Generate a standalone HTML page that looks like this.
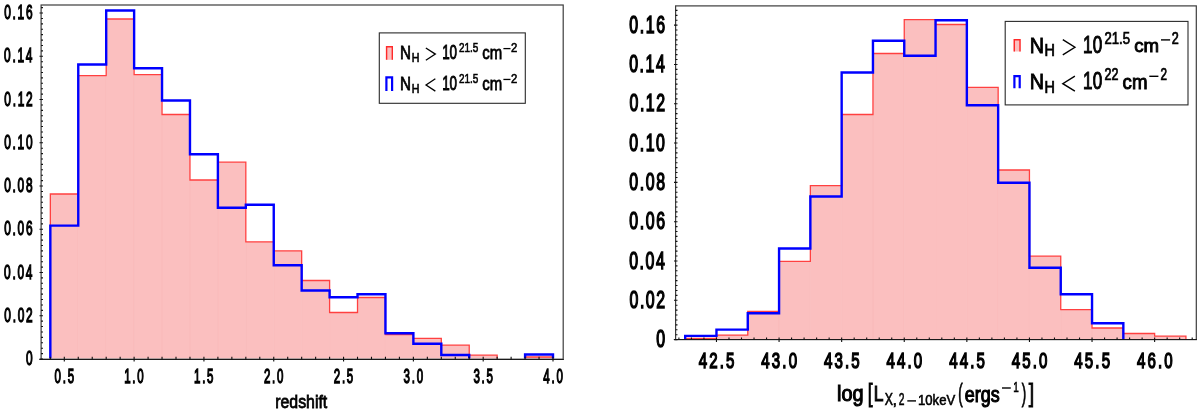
<!DOCTYPE html><html><head><meta charset="utf-8"><style>html,body{margin:0;padding:0;background:#fff;overflow:hidden;}svg{display:block;filter:blur(0.3px);}text{font-family:"Liberation Sans",sans-serif;fill:#000;}</style></head><body>
<svg width="1200" height="411" viewBox="0 0 1200 411">
<rect width="1200" height="411" fill="#fff"/>
<clipPath id="cL"><rect x="41.1" y="5" width="522.1" height="353.6"/></clipPath>
<g clip-path="url(#cL)">
<g fill="#fbbfbf"><rect x="50.34" y="194" width="27.93" height="165.2"/><rect x="78.26" y="75.7" width="27.93" height="283.5"/><rect x="106.19" y="19" width="27.93" height="340.2"/><rect x="134.12" y="74.7" width="27.93" height="284.5"/><rect x="162.04" y="114.5" width="27.93" height="244.7"/><rect x="189.97" y="180" width="27.93" height="179.2"/><rect x="217.89" y="162.2" width="27.93" height="197"/><rect x="245.82" y="241.8" width="27.93" height="117.4"/><rect x="273.75" y="250.8" width="27.93" height="108.4"/><rect x="301.67" y="280.5" width="27.93" height="78.7"/><rect x="329.6" y="312.5" width="27.93" height="46.7"/><rect x="357.52" y="297.5" width="27.93" height="61.7"/><rect x="385.45" y="334.6" width="27.93" height="24.6"/><rect x="413.38" y="338.4" width="27.93" height="20.8"/><rect x="441.3" y="345.2" width="27.93" height="14"/><rect x="469.23" y="355.2" width="27.93" height="4"/><rect x="525.08" y="357" width="27.93" height="2.2"/></g>
<path d="M78.26,195 V359.2 M106.19,76.7 V359.2 M134.12,75.7 V359.2 M162.04,115.5 V359.2 M189.97,181 V359.2 M217.89,181 V359.2 M245.82,242.8 V359.2 M273.75,251.8 V359.2 M301.67,281.5 V359.2 M329.6,313.5 V359.2 M357.52,313.5 V359.2 M385.45,335.6 V359.2 M413.38,339.4 V359.2 M441.3,346.2 V359.2 M469.23,356.2 V359.2" stroke="#f9b4b4" stroke-width="0.6" fill="none"/>
<path d="M50.34,359.2 L50.34,194 L78.26,194 L78.26,75.7 L106.19,75.7 L106.19,19 L134.12,19 L134.12,74.7 L162.04,74.7 L162.04,114.5 L189.97,114.5 L189.97,180 L217.89,180 L217.89,162.2 L245.82,162.2 L245.82,241.8 L273.75,241.8 L273.75,250.8 L301.67,250.8 L301.67,280.5 L329.6,280.5 L329.6,312.5 L357.52,312.5 L357.52,297.5 L385.45,297.5 L385.45,334.6 L413.38,334.6 L413.38,338.4 L441.3,338.4 L441.3,345.2 L469.23,345.2 L469.23,355.2 L497.15,355.2 L497.15,359.2 M525.08,359.2 L525.08,357 L553,357 L553,359.2" stroke="#ff4040" stroke-width="1.3" fill="none" stroke-linejoin="miter"/>
<path d="M50.34,359.2 L50.34,225.6 L78.26,225.6 L78.26,64.5 L106.19,64.5 L106.19,10.5 L134.12,10.5 L134.12,68.3 L162.04,68.3 L162.04,100.5 L189.97,100.5 L189.97,154.2 L217.89,154.2 L217.89,207.7 L245.82,207.7 L245.82,204.8 L273.75,204.8 L273.75,265.3 L301.67,265.3 L301.67,290.5 L329.6,290.5 L329.6,297.2 L357.52,297.2 L357.52,294.2 L385.45,294.2 L385.45,333.3 L413.38,333.3 L413.38,343.8 L441.3,343.8 L441.3,355 L469.23,355 L469.23,359.2 M525.08,359.2 L525.08,354.5 L553,354.5 L553,359.2" stroke="#0000ff" stroke-width="2.4" fill="none" stroke-linejoin="miter"/>
</g>
<rect x="41.1" y="5" width="522.1" height="354.2" fill="none" stroke="#3c3c3c" stroke-width="1.2"/>
<path d="M39.3,359.5 H563.8" stroke="#1a1a1a" stroke-width="1.1"/>
<path d="M50.34,359.2 V356.8 M64.3,359.2 V356.8 M78.26,359.2 V356.8 M92.23,359.2 V356.8 M106.19,359.2 V356.8 M120.15,359.2 V356.8 M134.11,359.2 V356.8 M148.08,359.2 V356.8 M162.04,359.2 V356.8 M176,359.2 V356.8 M189.97,359.2 V356.8 M203.93,359.2 V356.8 M217.89,359.2 V356.8 M231.86,359.2 V356.8 M245.82,359.2 V356.8 M259.78,359.2 V356.8 M273.75,359.2 V356.8 M287.71,359.2 V356.8 M301.67,359.2 V356.8 M315.63,359.2 V356.8 M329.6,359.2 V356.8 M343.56,359.2 V356.8 M357.52,359.2 V356.8 M371.49,359.2 V356.8 M385.45,359.2 V356.8 M399.41,359.2 V356.8 M413.38,359.2 V356.8 M427.34,359.2 V356.8 M441.3,359.2 V356.8 M455.26,359.2 V356.8 M469.23,359.2 V356.8 M483.19,359.2 V356.8 M497.15,359.2 V356.8 M511.12,359.2 V356.8 M525.08,359.2 V356.8 M539.04,359.2 V356.8 M553.01,359.2 V356.8 M64.3,361.6 V356.8 M134.12,361.6 V356.8 M203.93,361.6 V356.8 M273.75,361.6 V356.8 M343.56,361.6 V356.8 M413.38,361.6 V356.8 M483.19,361.6 V356.8 M553,361.6 V356.8 M39.5,359 H43 M41.1,353.59 H43 M41.1,348.19 H43 M41.1,342.78 H43 M41.1,337.38 H43 M41.1,331.97 H43 M41.1,326.57 H43 M41.1,321.16 H43 M39.5,315.76 H43 M41.1,310.35 H43 M41.1,304.94 H43 M41.1,299.54 H43 M41.1,294.13 H43 M41.1,288.73 H43 M41.1,283.32 H43 M41.1,277.92 H43 M39.5,272.51 H43 M41.1,267.11 H43 M41.1,261.7 H43 M41.1,256.3 H43 M41.1,250.89 H43 M41.1,245.48 H43 M41.1,240.08 H43 M41.1,234.67 H43 M39.5,229.27 H43 M41.1,223.86 H43 M41.1,218.46 H43 M41.1,213.05 H43 M41.1,207.65 H43 M41.1,202.24 H43 M41.1,196.84 H43 M41.1,191.43 H43 M39.5,186.02 H43 M41.1,180.62 H43 M41.1,175.21 H43 M41.1,169.81 H43 M41.1,164.4 H43 M41.1,159 H43 M41.1,153.59 H43 M41.1,148.19 H43 M39.5,142.78 H43 M41.1,137.37 H43 M41.1,131.97 H43 M41.1,126.56 H43 M41.1,121.16 H43 M41.1,115.75 H43 M41.1,110.35 H43 M41.1,104.94 H43 M39.5,99.54 H43 M41.1,94.13 H43 M41.1,88.73 H43 M41.1,83.32 H43 M41.1,77.91 H43 M41.1,72.51 H43 M41.1,67.1 H43 M41.1,61.7 H43 M39.5,56.29 H43 M41.1,50.89 H43 M41.1,45.48 H43 M41.1,40.08 H43 M41.1,34.67 H43 M41.1,29.26 H43 M41.1,23.86 H43 M41.1,18.45 H43 M39.5,13.05 H43 M41.1,7.64 H43" stroke="#111" stroke-width="1.1"/>
<text transform="translate(54.55,382.95) scale(0.5907,1)" font-size="19.477" text-anchor="start" font-weight="normal" letter-spacing="2.989" stroke="#000" stroke-width="1.300">0.5</text>
<text transform="translate(124.14,382.95) scale(0.5907,1)" font-size="19.477" text-anchor="start" font-weight="normal" letter-spacing="2.989" stroke="#000" stroke-width="1.300">1.0</text>
<text transform="translate(193.97,382.95) scale(0.5907,1)" font-size="19.477" text-anchor="start" font-weight="normal" letter-spacing="2.989" stroke="#000" stroke-width="1.300">1.5</text>
<text transform="translate(263.92,382.95) scale(0.5907,1)" font-size="19.477" text-anchor="start" font-weight="normal" letter-spacing="2.989" stroke="#000" stroke-width="1.300">2.0</text>
<text transform="translate(333.75,382.95) scale(0.5907,1)" font-size="19.477" text-anchor="start" font-weight="normal" letter-spacing="2.989" stroke="#000" stroke-width="1.300">2.5</text>
<text transform="translate(403.62,382.95) scale(0.5907,1)" font-size="19.477" text-anchor="start" font-weight="normal" letter-spacing="2.989" stroke="#000" stroke-width="1.300">3.0</text>
<text transform="translate(473.45,382.95) scale(0.5907,1)" font-size="19.477" text-anchor="start" font-weight="normal" letter-spacing="2.989" stroke="#000" stroke-width="1.300">3.5</text>
<text transform="translate(543.33,382.95) scale(0.5907,1)" font-size="19.477" text-anchor="start" font-weight="normal" letter-spacing="2.989" stroke="#000" stroke-width="1.300">4.0</text>
<text transform="translate(25.88,365) scale(0.6033,1)" font-size="19.764" text-anchor="start" font-weight="normal" letter-spacing="2.808" stroke="#000" stroke-width="1.300">0</text>
<text transform="translate(4.36,321.76) scale(0.6033,1)" font-size="19.764" text-anchor="start" font-weight="normal" letter-spacing="2.808" stroke="#000" stroke-width="1.300">0.02</text>
<text transform="translate(4.11,278.51) scale(0.6033,1)" font-size="19.764" text-anchor="start" font-weight="normal" letter-spacing="2.808" stroke="#000" stroke-width="1.300">0.04</text>
<text transform="translate(4.28,235.27) scale(0.6033,1)" font-size="19.764" text-anchor="start" font-weight="normal" letter-spacing="2.808" stroke="#000" stroke-width="1.300">0.06</text>
<text transform="translate(4.28,192.02) scale(0.6033,1)" font-size="19.764" text-anchor="start" font-weight="normal" letter-spacing="2.808" stroke="#000" stroke-width="1.300">0.08</text>
<text transform="translate(4.23,148.78) scale(0.6033,1)" font-size="19.764" text-anchor="start" font-weight="normal" letter-spacing="2.808" stroke="#000" stroke-width="1.300">0.10</text>
<text transform="translate(4.36,105.54) scale(0.6033,1)" font-size="19.764" text-anchor="start" font-weight="normal" letter-spacing="2.808" stroke="#000" stroke-width="1.300">0.12</text>
<text transform="translate(4.11,62.29) scale(0.6033,1)" font-size="19.764" text-anchor="start" font-weight="normal" letter-spacing="2.808" stroke="#000" stroke-width="1.300">0.14</text>
<text transform="translate(4.28,19.05) scale(0.6033,1)" font-size="19.764" text-anchor="start" font-weight="normal" letter-spacing="2.808" stroke="#000" stroke-width="1.300">0.16</text>
<clipPath id="cR"><rect x="675.6" y="5.9" width="520.7" height="333.1"/></clipPath>
<g clip-path="url(#cR)">
<g fill="#fbbfbf"><rect x="685.17" y="338.3" width="31.3" height="1.3"/><rect x="716.47" y="335.2" width="31.3" height="4.4"/><rect x="747.77" y="311.3" width="31.3" height="28.3"/><rect x="779.07" y="261.3" width="31.3" height="78.3"/><rect x="810.36" y="185.7" width="31.3" height="153.9"/><rect x="841.66" y="114.5" width="31.3" height="225.1"/><rect x="872.96" y="53.5" width="31.3" height="286.1"/><rect x="904.25" y="19.7" width="31.3" height="319.9"/><rect x="935.55" y="24.5" width="31.3" height="315.1"/><rect x="966.85" y="87.3" width="31.3" height="252.3"/><rect x="998.15" y="170" width="31.3" height="169.6"/><rect x="1029.45" y="256.2" width="31.3" height="83.4"/><rect x="1060.74" y="309.7" width="31.3" height="29.9"/><rect x="1092.04" y="328" width="31.3" height="11.6"/><rect x="1123.34" y="333.5" width="31.3" height="6.1"/><rect x="1154.63" y="336.2" width="31.3" height="3.4"/></g>
<path d="M716.47,339.3 V339.6 M747.77,336.2 V339.6 M779.07,312.3 V339.6 M810.36,262.3 V339.6 M841.66,186.7 V339.6 M872.96,115.5 V339.6 M904.25,54.5 V339.6 M935.55,25.5 V339.6 M966.85,88.3 V339.6 M998.15,171 V339.6 M1029.45,257.2 V339.6 M1060.74,310.7 V339.6 M1092.04,329 V339.6 M1123.34,334.5 V339.6 M1154.63,337.2 V339.6" stroke="#f9b4b4" stroke-width="0.6" fill="none"/>
<path d="M685.17,339.6 L685.17,338.3 L716.47,338.3 L716.47,335.2 L747.77,335.2 L747.77,311.3 L779.07,311.3 L779.07,261.3 L810.36,261.3 L810.36,185.7 L841.66,185.7 L841.66,114.5 L872.96,114.5 L872.96,53.5 L904.25,53.5 L904.25,19.7 L935.55,19.7 L935.55,24.5 L966.85,24.5 L966.85,87.3 L998.15,87.3 L998.15,170 L1029.45,170 L1029.45,256.2 L1060.74,256.2 L1060.74,309.7 L1092.04,309.7 L1092.04,328 L1123.34,328 L1123.34,333.5 L1154.63,333.5 L1154.63,336.2 L1185.93,336.2 L1185.93,339.6" stroke="#ff4040" stroke-width="1.3" fill="none" stroke-linejoin="miter"/>
<path d="M685.17,339.6 L685.17,335.9 L716.47,335.9 L716.47,329.6 L747.77,329.6 L747.77,313.2 L779.07,313.2 L779.07,248.5 L810.36,248.5 L810.36,196.5 L841.66,196.5 L841.66,72.5 L872.96,72.5 L872.96,40.7 L904.25,40.7 L904.25,55.8 L935.55,55.8 L935.55,20.3 L966.85,20.3 L966.85,105.2 L998.15,105.2 L998.15,182.7 L1029.45,182.7 L1029.45,267.7 L1060.74,267.7 L1060.74,294.3 L1092.04,294.3 L1092.04,323.2 L1123.34,323.2 L1123.34,339.6" stroke="#0000ff" stroke-width="2.4" fill="none" stroke-linejoin="miter"/>
</g>
<rect x="675.6" y="5.9" width="520.7" height="333.7" fill="none" stroke="#3c3c3c" stroke-width="1.2"/>
<path d="M673.8,339.5 H1196.9" stroke="#1a1a1a" stroke-width="1.1"/>
<path d="M678.91,339.6 V337.4 M691.43,339.6 V337.4 M703.95,339.6 V337.4 M716.47,339.6 V337.4 M728.99,339.6 V337.4 M741.51,339.6 V337.4 M754.03,339.6 V337.4 M766.55,339.6 V337.4 M779.07,339.6 V337.4 M791.58,339.6 V337.4 M804.1,339.6 V337.4 M816.62,339.6 V337.4 M829.14,339.6 V337.4 M841.66,339.6 V337.4 M854.18,339.6 V337.4 M866.7,339.6 V337.4 M879.22,339.6 V337.4 M891.74,339.6 V337.4 M904.26,339.6 V337.4 M916.77,339.6 V337.4 M929.29,339.6 V337.4 M941.81,339.6 V337.4 M954.33,339.6 V337.4 M966.85,339.6 V337.4 M979.37,339.6 V337.4 M991.89,339.6 V337.4 M1004.41,339.6 V337.4 M1016.93,339.6 V337.4 M1029.45,339.6 V337.4 M1041.96,339.6 V337.4 M1054.48,339.6 V337.4 M1067,339.6 V337.4 M1079.52,339.6 V337.4 M1092.04,339.6 V337.4 M1104.56,339.6 V337.4 M1117.08,339.6 V337.4 M1129.6,339.6 V337.4 M1142.12,339.6 V337.4 M1154.64,339.6 V337.4 M1167.15,339.6 V337.4 M1179.67,339.6 V337.4 M1192.19,339.6 V337.4 M716.47,342 V337.4 M779.07,342 V337.4 M841.66,342 V337.4 M904.25,342 V337.4 M966.85,342 V337.4 M1029.45,342 V337.4 M1092.04,342 V337.4 M1154.63,342 V337.4 M674,339.6 H677.5 M675.6,334.69 H677.5 M675.6,329.77 H677.5 M675.6,324.86 H677.5 M675.6,319.95 H677.5 M675.6,315.03 H677.5 M675.6,310.12 H677.5 M675.6,305.21 H677.5 M674,300.29 H677.5 M675.6,295.38 H677.5 M675.6,290.47 H677.5 M675.6,285.55 H677.5 M675.6,280.64 H677.5 M675.6,275.73 H677.5 M675.6,270.81 H677.5 M675.6,265.9 H677.5 M674,260.99 H677.5 M675.6,256.07 H677.5 M675.6,251.16 H677.5 M675.6,246.25 H677.5 M675.6,241.34 H677.5 M675.6,236.42 H677.5 M675.6,231.51 H677.5 M675.6,226.6 H677.5 M674,221.68 H677.5 M675.6,216.77 H677.5 M675.6,211.86 H677.5 M675.6,206.94 H677.5 M675.6,202.03 H677.5 M675.6,197.12 H677.5 M675.6,192.2 H677.5 M675.6,187.29 H677.5 M674,182.38 H677.5 M675.6,177.46 H677.5 M675.6,172.55 H677.5 M675.6,167.64 H677.5 M675.6,162.72 H677.5 M675.6,157.81 H677.5 M675.6,152.9 H677.5 M675.6,147.98 H677.5 M674,143.07 H677.5 M675.6,138.16 H677.5 M675.6,133.24 H677.5 M675.6,128.33 H677.5 M675.6,123.42 H677.5 M675.6,118.5 H677.5 M675.6,113.59 H677.5 M675.6,108.68 H677.5 M674,103.76 H677.5 M675.6,98.85 H677.5 M675.6,93.94 H677.5 M675.6,89.02 H677.5 M675.6,84.11 H677.5 M675.6,79.2 H677.5 M675.6,74.28 H677.5 M675.6,69.37 H677.5 M674,64.46 H677.5 M675.6,59.54 H677.5 M675.6,54.63 H677.5 M675.6,49.72 H677.5 M675.6,44.81 H677.5 M675.6,39.89 H677.5 M675.6,34.98 H677.5 M675.6,30.07 H677.5 M674,25.15 H677.5 M675.6,20.24 H677.5 M675.6,15.33 H677.5 M675.6,10.41 H677.5" stroke="#111" stroke-width="1.1"/>
<text transform="translate(698.77,367.55) scale(0.6699,1)" font-size="22.485" text-anchor="start" font-weight="normal" letter-spacing="3.166" stroke="#000" stroke-width="1.500">42.5</text>
<text transform="translate(761.35,367.55) scale(0.6699,1)" font-size="22.485" text-anchor="start" font-weight="normal" letter-spacing="3.166" stroke="#000" stroke-width="1.500">43.0</text>
<text transform="translate(823.96,367.55) scale(0.6699,1)" font-size="22.485" text-anchor="start" font-weight="normal" letter-spacing="3.166" stroke="#000" stroke-width="1.500">43.5</text>
<text transform="translate(886.54,367.55) scale(0.6699,1)" font-size="22.485" text-anchor="start" font-weight="normal" letter-spacing="3.166" stroke="#000" stroke-width="1.500">44.0</text>
<text transform="translate(949.15,367.55) scale(0.6699,1)" font-size="22.485" text-anchor="start" font-weight="normal" letter-spacing="3.166" stroke="#000" stroke-width="1.500">44.5</text>
<text transform="translate(1011.73,367.55) scale(0.6699,1)" font-size="22.485" text-anchor="start" font-weight="normal" letter-spacing="3.166" stroke="#000" stroke-width="1.500">45.0</text>
<text transform="translate(1074.34,367.55) scale(0.6699,1)" font-size="22.485" text-anchor="start" font-weight="normal" letter-spacing="3.166" stroke="#000" stroke-width="1.500">45.5</text>
<text transform="translate(1136.92,367.55) scale(0.6699,1)" font-size="22.485" text-anchor="start" font-weight="normal" letter-spacing="3.166" stroke="#000" stroke-width="1.500">46.0</text>
<text transform="translate(656.13,347.15) scale(0.6728,1)" font-size="23.631" text-anchor="start" font-weight="normal" letter-spacing="2.350" stroke="#000" stroke-width="1.500">0</text>
<text transform="translate(629.46,307.84) scale(0.6728,1)" font-size="23.631" text-anchor="start" font-weight="normal" letter-spacing="2.350" stroke="#000" stroke-width="1.500">0.02</text>
<text transform="translate(629.13,268.54) scale(0.6728,1)" font-size="23.631" text-anchor="start" font-weight="normal" letter-spacing="2.350" stroke="#000" stroke-width="1.500">0.04</text>
<text transform="translate(629.36,229.23) scale(0.6728,1)" font-size="23.631" text-anchor="start" font-weight="normal" letter-spacing="2.350" stroke="#000" stroke-width="1.500">0.06</text>
<text transform="translate(629.35,189.93) scale(0.6728,1)" font-size="23.631" text-anchor="start" font-weight="normal" letter-spacing="2.350" stroke="#000" stroke-width="1.500">0.08</text>
<text transform="translate(629.28,150.62) scale(0.6728,1)" font-size="23.631" text-anchor="start" font-weight="normal" letter-spacing="2.350" stroke="#000" stroke-width="1.500">0.10</text>
<text transform="translate(629.46,111.31) scale(0.6728,1)" font-size="23.631" text-anchor="start" font-weight="normal" letter-spacing="2.350" stroke="#000" stroke-width="1.500">0.12</text>
<text transform="translate(629.13,72.01) scale(0.6728,1)" font-size="23.631" text-anchor="start" font-weight="normal" letter-spacing="2.350" stroke="#000" stroke-width="1.500">0.14</text>
<text transform="translate(629.36,32.7) scale(0.6728,1)" font-size="23.631" text-anchor="start" font-weight="normal" letter-spacing="2.350" stroke="#000" stroke-width="1.500">0.16</text>
<text transform="translate(275.25,408) scale(0.8586,1)" font-size="18.493" text-anchor="start" font-weight="normal" stroke="#000" stroke-width="0.800">redshift</text>
<text transform="translate(837.11,400.75) scale(0.9231,1)" font-size="21.529" text-anchor="start" font-weight="normal" stroke="#000" stroke-width="1.100">log</text>
<text transform="translate(867.79,402.17) scale(0.6927,1)" font-size="25.426" text-anchor="start" font-weight="normal" stroke="#000" stroke-width="0.900">[</text>
<text transform="translate(873.82,400.75) scale(0.7957,1)" font-size="21.948" text-anchor="start" font-weight="normal" stroke="#000" stroke-width="1.100">L</text>
<text transform="translate(884.82,404.9) scale(0.7586,1)" font-size="16.279" text-anchor="start" font-weight="normal" stroke="#000" stroke-width="0.600">X</text>
<text transform="translate(892.44,405.12) scale(0.9572,1)" font-size="17.031" text-anchor="start" font-weight="normal" stroke="#000" stroke-width="0.600">,</text>
<text transform="translate(898.68,404.9) scale(0.6432,1)" font-size="16.040" text-anchor="start" font-weight="normal" stroke="#000" stroke-width="0.600">2</text>
<path d="M907.3,400.9 H916" stroke="#000" stroke-width="1.4"/>
<text transform="translate(918,404.9) scale(0.8656,1)" font-size="15.181" text-anchor="start" font-weight="normal" stroke="#000" stroke-width="0.600">10keV</text>
<text transform="translate(958.23,402.01) scale(0.5211,1)" font-size="25.332" text-anchor="start" font-weight="normal" stroke="#000" stroke-width="0.900">(</text>
<text transform="translate(964.79,401.55) scale(0.8469,1)" font-size="21.191" text-anchor="start" font-weight="normal" stroke="#000" stroke-width="1.100">ergs</text>
<path d="M1002,388 H1010.8" stroke="#000" stroke-width="1.4"/>
<text transform="translate(1013.14,392.2) scale(0.6413,1)" font-size="15.553" text-anchor="start" font-weight="normal" stroke="#000" stroke-width="0.600">1</text>
<text transform="translate(1021.67,402.01) scale(0.5211,1)" font-size="25.332" text-anchor="start" font-weight="normal" stroke="#000" stroke-width="0.900">)</text>
<text transform="translate(1028.8,401.76) scale(0.7851,1)" font-size="24.997" text-anchor="start" font-weight="normal" stroke="#000" stroke-width="0.900">]</text>
<rect x="379.3" y="32.9" width="146" height="70.4" fill="#fff" stroke="#2a2a2a" stroke-width="1.1"/>
<rect x="385.9" y="46.1" width="7.1" height="13.7" fill="#fbbfbf"/>
<path d="M386.6,59.8 V46.8 H392.3 V59.8" stroke="#ff2a2a" stroke-width="1.4" fill="none"/>
<text transform="translate(399.95,58.9) scale(0.7992,1)" font-size="19.041" text-anchor="start" font-weight="normal" stroke="#000" stroke-width="0.800">N</text>
<text transform="translate(411.75,62.07) scale(0.8281,1)" font-size="12.864" text-anchor="start" font-weight="normal" stroke="#000" stroke-width="0.650">H</text>
<path d="M425.85,47.95 L435.35,54.1 L425.85,60.25" stroke="#000" stroke-width="1.3" fill="none" stroke-linejoin="miter"/>
<text transform="translate(442.13,59.15) scale(0.6608,1)" font-size="20.337" text-anchor="start" font-weight="normal" stroke="#000" stroke-width="0.900">10</text>
<text transform="translate(458.92,51.67) scale(0.7276,1)" font-size="13.677" text-anchor="start" font-weight="normal" stroke="#000" stroke-width="0.650">21.5</text>
<text transform="translate(482.37,59.3) scale(0.7807,1)" font-size="19.142" text-anchor="start" font-weight="normal" stroke="#000" stroke-width="0.800">cm</text>
<path d="M503.4,48.6 H510.5" stroke="#000" stroke-width="1.3"/>
<text transform="translate(510.96,51.67) scale(0.8265,1)" font-size="13.677" text-anchor="start" font-weight="normal" stroke="#000" stroke-width="0.650">2</text>
<path d="M386.4,91.1 V77.4 H392.1 V91.1" stroke="#0000ff" stroke-width="2.2" fill="none"/>
<text transform="translate(399.95,89.75) scale(0.7992,1)" font-size="19.041" text-anchor="start" font-weight="normal" stroke="#000" stroke-width="0.800">N</text>
<text transform="translate(411.75,92.92) scale(0.8281,1)" font-size="12.864" text-anchor="start" font-weight="normal" stroke="#000" stroke-width="0.650">H</text>
<path d="M435.35,78.8 L426.05,84.95 L435.35,91.1" stroke="#000" stroke-width="1.3" fill="none" stroke-linejoin="miter"/>
<text transform="translate(442.13,90) scale(0.6608,1)" font-size="20.337" text-anchor="start" font-weight="normal" stroke="#000" stroke-width="0.900">10</text>
<text transform="translate(458.92,82.52) scale(0.7276,1)" font-size="13.677" text-anchor="start" font-weight="normal" stroke="#000" stroke-width="0.650">21.5</text>
<text transform="translate(482.37,90.15) scale(0.7807,1)" font-size="19.142" text-anchor="start" font-weight="normal" stroke="#000" stroke-width="0.800">cm</text>
<path d="M503.4,79.45 H510.5" stroke="#000" stroke-width="1.3"/>
<text transform="translate(510.96,82.52) scale(0.8265,1)" font-size="13.677" text-anchor="start" font-weight="normal" stroke="#000" stroke-width="0.650">2</text>
<rect x="1005.2" y="21.4" width="182.8" height="83.5" fill="#fff" stroke="#2a2a2a" stroke-width="1.1"/>
<rect x="1013.6" y="39.1" width="7.1" height="12.4" fill="#fbbfbf"/>
<path d="M1014.3,51.5 V39.8 H1020 V51.5" stroke="#ff2a2a" stroke-width="1.4" fill="none"/>
<path d="M1014.4,88.3 V76.1 H1019.7 V88.3" stroke="#0000ff" stroke-width="2.2" fill="none"/>
<text transform="translate(1029.65,52.52) scale(0.8696,1)" font-size="22.747" text-anchor="start" font-weight="normal" stroke="#000" stroke-width="0.950">N</text>
<text transform="translate(1044.49,56.42) scale(0.9055,1)" font-size="15.916" text-anchor="start" font-weight="normal" stroke="#000" stroke-width="0.750">H</text>
<path d="M1062.8,39.7 L1074.9,47.25 L1062.8,54.8" stroke="#000" stroke-width="1.4" fill="none" stroke-linejoin="miter"/>
<text transform="translate(1083.12,53.08) scale(0.7215,1)" font-size="23.702" text-anchor="start" font-weight="normal" stroke="#000" stroke-width="1.050">10</text>
<text transform="translate(1029.65,88.93) scale(0.8696,1)" font-size="22.747" text-anchor="start" font-weight="normal" stroke="#000" stroke-width="0.950">N</text>
<text transform="translate(1044.49,92.82) scale(0.9055,1)" font-size="15.916" text-anchor="start" font-weight="normal" stroke="#000" stroke-width="0.750">H</text>
<path d="M1074.9,76.1 L1062.8,83.65 L1074.9,91.2" stroke="#000" stroke-width="1.4" fill="none" stroke-linejoin="miter"/>
<text transform="translate(1083.12,89.47) scale(0.7215,1)" font-size="23.702" text-anchor="start" font-weight="normal" stroke="#000" stroke-width="1.050">10</text>
<text transform="translate(1104.41,44.02) scale(0.8225,1)" font-size="15.969" text-anchor="start" font-weight="normal" stroke="#000" stroke-width="0.750">21.5</text>
<text transform="translate(1134.28,52.42) scale(0.9701,1)" font-size="19.235" text-anchor="start" font-weight="normal" stroke="#000" stroke-width="0.950">cm</text>
<path d="M1161,39.9 H1170.1" stroke="#000" stroke-width="1.4"/>
<text transform="translate(1171.64,44.02) scale(0.7904,1)" font-size="15.969" text-anchor="start" font-weight="normal" stroke="#000" stroke-width="0.750">2</text>
<text transform="translate(1104.45,80.22) scale(0.7973,1)" font-size="15.682" text-anchor="start" font-weight="normal" stroke="#000" stroke-width="0.750">22</text>
<text transform="translate(1122.58,89.12) scale(0.9254,1)" font-size="20.164" text-anchor="start" font-weight="normal" stroke="#000" stroke-width="0.950">cm</text>
<path d="M1149.3,76.3 H1158.4" stroke="#000" stroke-width="1.4"/>
<text transform="translate(1160.38,80.22) scale(0.7488,1)" font-size="15.682" text-anchor="start" font-weight="normal" stroke="#000" stroke-width="0.750">2</text>
</svg></body></html>
